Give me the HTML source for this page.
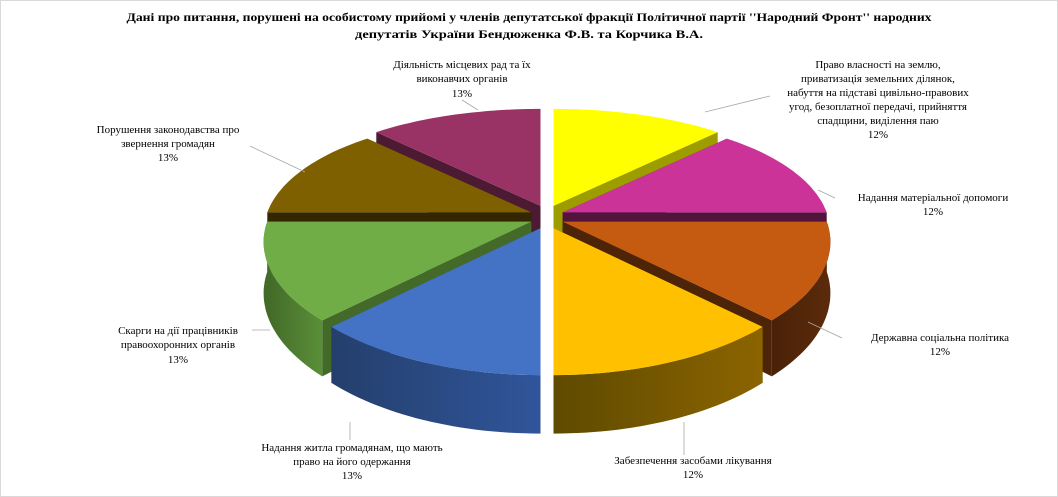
<!DOCTYPE html>
<html><head><meta charset="utf-8"><style>
html,body{margin:0;padding:0;background:#fff}
svg{display:block}
text{font-family:"Liberation Serif",serif;font-size:11px;fill:#000}
</style></head><body>
<svg id="s" width="1058" height="497" xmlns="http://www.w3.org/2000/svg">
<rect x="0.5" y="0.5" width="1057" height="496" fill="#fff" stroke="#d9d9d9"/>
<defs id="d"></defs>
<g id="pie"></g>
<g stroke="#a6a6a6" stroke-width="0.8" fill="none">
<path d="M462 100 L478 110"/>
<path d="M250 146 L305 172"/>
<path d="M770 96 L705 112"/>
<path d="M835 198 L818 190"/>
<path d="M842 338 L808 322"/>
<path d="M684 455 L684 422"/>
<path d="M350 440 L350 422"/>
<path d="M252 330 L270 330"/>
</g>
<g font-weight="bold" text-anchor="middle" style="font-weight:bold">
<text x="529" y="21" textLength="805" lengthAdjust="spacingAndGlyphs" style="font-weight:bold;font-size:11.5px">Дані  про  питання,  порушені   на особистому  прийомі   у членів депутатської  фракції  Політичної  партії  ''Народний  Фронт''  народних</text>
<text x="529" y="38" textLength="348" lengthAdjust="spacingAndGlyphs" style="font-weight:bold;font-size:11.5px">депутатів  України   Бендюженка  Ф.В. та Корчика   В.А.</text>
</g>
<g text-anchor="middle">
<text x="462" y="68">Діяльність місцевих  рад та їх</text>
<text x="462" y="82">виконавчих  органів</text>
<text x="462" y="97">13%</text>
<text x="168" y="133">Порушення законодавства про</text>
<text x="168" y="147">звернення громадян</text>
<text x="168" y="161">13%</text>
<text x="878" y="68">Право власності на землю,</text>
<text x="878" y="82">приватизація земельних ділянок,</text>
<text x="878" y="96">набуття на підставі цивільно-правових</text>
<text x="878" y="110">угод, безоплатної передачі, прийняття</text>
<text x="878" y="124">спадщини,  виділення паю</text>
<text x="878" y="138">12%</text>
<text x="933" y="201">Надання матеріальної допомоги</text>
<text x="933" y="215">12%</text>
<text x="940" y="341">Державна соціальна політика</text>
<text x="940" y="355">12%</text>
<text x="693" y="464">Забезпечення  засобами лікування</text>
<text x="693" y="478">12%</text>
<text x="352" y="451">Надання житла громадянам, що мають</text>
<text x="352" y="465">право на його одержання</text>
<text x="352" y="479">13%</text>
<text x="178" y="334">Скарги на дії працівників</text>
<text x="178" y="348">правоохоронних  органів</text>
<text x="178" y="363">13%</text>
</g>
</svg>
<script>
(function(){
var NS="http://www.w3.org/2000/svg";
var cx=547,cy=217,rx=264,D=50,ex=17,ey=12,K=0.17;
var sl=[
 ["#ffff00","#a3a300","#8a8a00","#9d9d00"],
 ["#cc3399","#6b1a4f","#52143d","#52143d"],
 ["#c55a11","#5a2a0a","#4a2208","#4d2408"],
 ["#ffc000","#8c6400","#5e4a00","#6b5200"],
 ["#4472c4","#30559a","#243f6c","#2c4c84"],
 ["#70ad47","#5a8f38","#436a28","#436a28"],
 ["#7f6000","#3a2c00","#2a2000","#332600"],
 ["#993366","#5c1f3d","#3f1529","#4d1a33"]
];
function P(t,z,ox,oy){var u=Math.sin(t),v=-Math.cos(t),s=1+K*v;
 return [cx+ox+rx*u*s, cy+oy+v*(122+25*v)+z*D*s];}
function C(z,ox,oy){return [cx+ox,cy+oy+z*D];}
function poly(pts){return "M"+pts.map(function(p){return p[0].toFixed(1)+" "+p[1].toFixed(1)}).join(" L")+"Z";}
var g=document.getElementById("pie"),defs=document.getElementById("d");
function add(d,fill){var p=document.createElementNS(NS,"path");p.setAttribute("d",d);p.setAttribute("fill",fill);g.appendChild(p);}
var rad=Math.PI/180;
var order=[0,1,2,3,4,5,6,7].map(function(i){return {i:i,v:-Math.cos((i*45+22.5)*rad)}}).sort(function(a,b){return a.v-b.v});
order.forEach(function(o){
 var i=o.i,a=i*45*rad,b=(i+1)*45*rad,m=(i*45+22.5)*rad;
 var ox=ex*Math.sin(m),oy=-ey*Math.cos(m),c=sl[i];
 function wall(t){return poly([C(0,ox,oy),P(t,0,ox,oy),P(t,1,ox,oy),C(1,ox,oy)]);}
 var aVis=Math.sin(a)< -1e-6, bVis=Math.sin(b)>1e-6;
 if(!aVis)add(wall(a),c[2]); if(!bVis)add(wall(b),c[2]);
 if(aVis)add(wall(a),c[3]); if(bVis)add(wall(b),c[3]);
 var lo=Math.max(a,90*rad),hi=Math.min(b,270*rad);
 if(hi>lo){
  var top=[],bot=[],n=30;
  for(var k=0;k<=n;k++){var t=lo+(hi-lo)*k/n;top.push(P(t,0,ox,oy));bot.push(P(t,1,ox,oy));}
  var gid="g"+i,lg=document.createElementNS(NS,"linearGradient");
  lg.setAttribute("id",gid);lg.setAttribute("gradientUnits","userSpaceOnUse");
  lg.setAttribute("x1",top[0][0]);lg.setAttribute("x2",top[n][0]);lg.setAttribute("y1",0);lg.setAttribute("y2",0);
  [[0,c[1]],[1,c[2]]].forEach(function(s){var st=document.createElementNS(NS,"stop");st.setAttribute("offset",s[0]);st.setAttribute("stop-color",s[1]);lg.appendChild(st);});
  defs.appendChild(lg);
  add(poly(top.concat(bot.reverse())),"url(#"+gid+")");
 }
 var tp=[C(0,ox,oy)];for(var k=0;k<=40;k++){tp.push(P(a+(b-a)*k/40,0,ox,oy));}
 add(poly(tp),c[0]);
});
})();
</script>
</body></html>
